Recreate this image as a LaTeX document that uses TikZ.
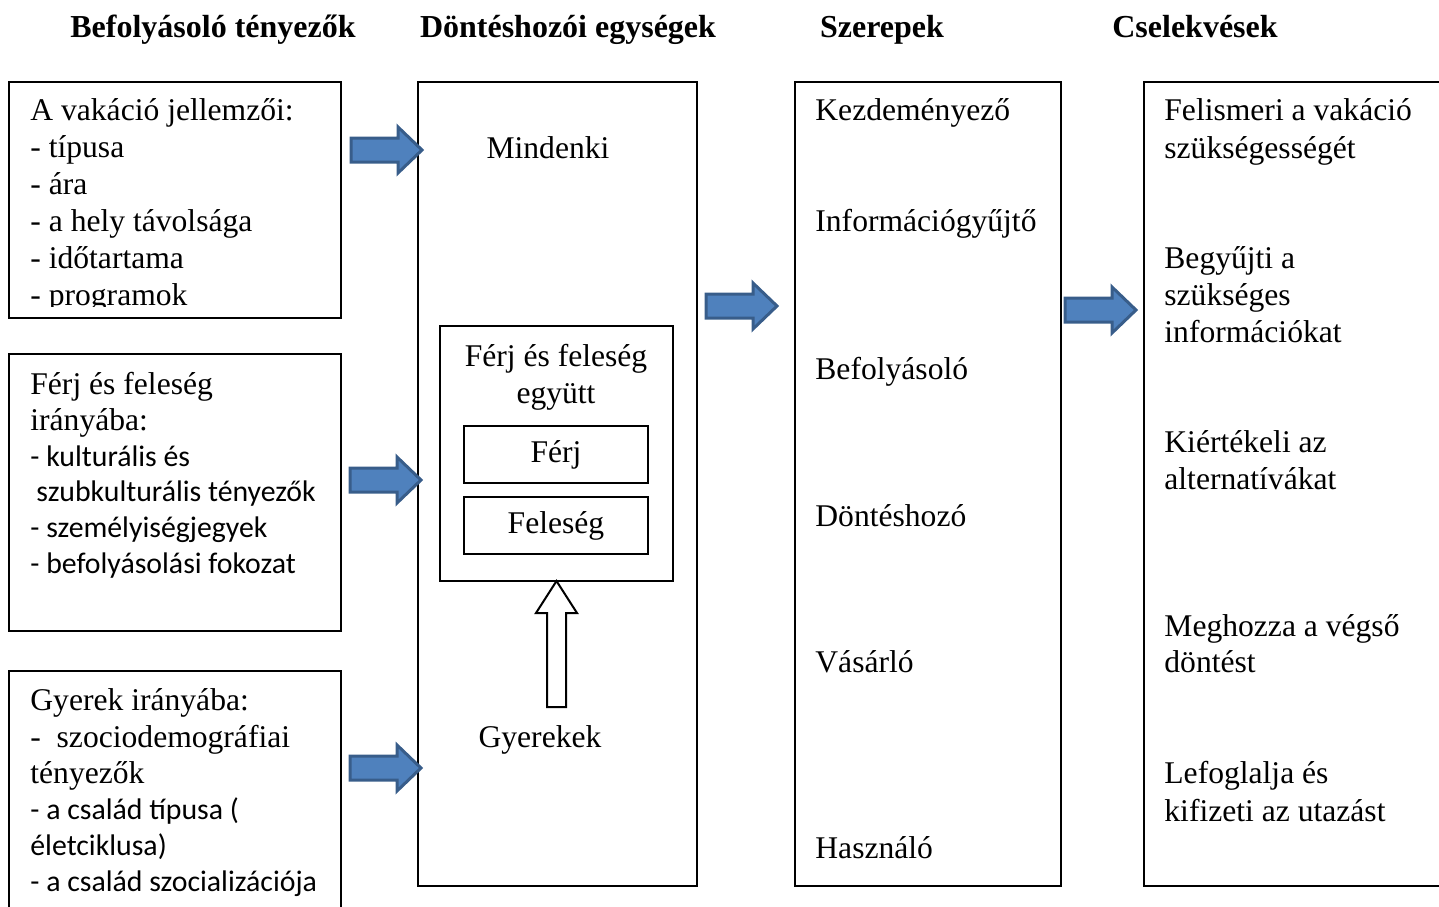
\documentclass[tikz,border=0pt]{standalone}
\usepackage{fontspec}
\setmainfont{Liberation Serif}
\newfontfamily\calibri{Carlito}
\usepackage{tikz}
\usetikzlibrary{positioning}

\definecolor{arrowfill}{HTML}{4F81BD}
\definecolor{arrowline}{HTML}{385D8A}

\tikzset{
	box/.style={draw, line width=1pt, anchor=north west, inner sep=0pt, outer sep=0pt},
	head/.style={font=\fontsize{16}{19}\selectfont\bfseries, anchor=base},
	txt/.style={font=\fontsize{15.8}{18.5}\selectfont, anchor=base west, inner sep=0pt},
	stxt/.style={font=\calibri\fontsize{14.9}{18}\selectfont, anchor=base west, inner sep=0pt},
	bluearrow/.pic={
			\filldraw[fill=arrowfill, draw=arrowline, line width=1.5pt, line join=miter]
			(-71,-12) -- (-24,-12) -- (-24,-23) -- (0,0) -- (-24,23) -- (-24,12) -- (-71,12) -- cycle;
		}
}

\begin{document}
\begin{tikzpicture}[x=0.5pt, y=-0.5pt]
		\clip (0,0) rectangle (1439,906);

		% Column titles
		\node[head] (h1) at (213,37) {Befolyásoló tényezők};
		\node[head] (h2) at (568,37) {Döntéshozói egységek};
		\node[head] (h3) at (882,37) {Szerepek};
		\node[head] (h4) at (1195,37) {Cselekvések};

		% Influencing factors
		\node[box, minimum width=166pt, minimum height=118pt] (fa) at (9,82) {};
		\node[box, minimum width=166pt, minimum height=138.5pt] (fb) at (9,354) {};
		\node[box, minimum width=166pt, minimum height=124.5pt] (fc) at (9,671) {};

		\begin{scope}
			\clip (9,82) rectangle (341,306);
			\foreach \t [count=\i] in {A vakáció jellemzői:, - típusa, - ára, - a hely távolsága, - időtartama, - programok}
			\node[txt] (fa\i) at (30,120+37*\i-37) {\t};
		\end{scope}

		\node[txt] (fb1) at (30,394) {Férj és feleség};
		\node[txt] (fb2) at (30,430) {irányába:};
		\node[stxt] (fb3) at (30,466) {- kulturális és};
		\node[stxt] (fb4) at (36,501) {szubkulturális tényezők};
		\node[stxt] (fb5) at (30,537) {- személyiségjegyek};
		\node[stxt] (fb6) at (30,573) {- befolyásolási fokozat};

		\node[txt] (fc1) at (30,710) {Gyerek irányába:};
		\node[txt] (fc2) at (30,747) {-\ \ szociodemográfiai};
		\node[txt] (fc3) at (30,783) {tényezők};
		\node[stxt] (fc4) at (30,819) {- a család típusa (};
		\node[stxt] (fc5) at (30,855) {életciklusa)};
		\node[stxt] (fc6) at (30,891) {- a család szocializációja};

		% Decision units
		\node[box, minimum width=139.5pt, minimum height=402pt] (mid) at (418,82) {};
		\node[box, minimum width=116.5pt, minimum height=127.5pt] (pair) at (440,326) {};
		\node[box, minimum width=92pt, minimum height=28.5pt, font=\fontsize{15.8}{18.5}\selectfont] (ferj) at (464,426) {Férj};
		\node[box, minimum width=92pt, minimum height=28.5pt, font=\fontsize{15.8}{18.5}\selectfont] (feleseg) at (464,497) {Feleség};
		\node[txt, anchor=base] (all) at (548,158) {Mindenki};
		\node[txt, anchor=base] (pair1) at (556,366) {Férj és feleség};
		\node[txt, anchor=base] (pair2) at (556,403) {együtt};
		\node[txt, anchor=base] (kids) at (540,747) {Gyerekek};

		% Children push up to the couple
		\draw[fill=white, line width=1pt, line join=miter]
		(pair.south) -- ++(20.5,32) -- ++(-11,0) -- ++(0,94) -- ++(-19,0) -- ++(0,-94) -- ++(-11,0) -- cycle;

		% Roles
		\node[box, minimum width=133pt, minimum height=402pt] (roles) at (795,82) {};
		\foreach \t/\y in {Kezdeményező/120, Információgyűjtő/231, Befolyásoló/379, Döntéshozó/526, Vásárló/672, Használó/858}
		\node[txt] (r\y) at (815,\y) {\t};

		% Actions
		\node[box, minimum width=160pt, minimum height=402pt] (acts) at (1144,82) {};
		\foreach \t/\y in {Felismeri a vakáció/120, szükségességét/158, Begyűjti a/268, szükséges/305, információkat/342, Kiértékeli az/452, alternatívákat/489, Meghozza a végső/636, döntést/672, Lefoglalja és/783, kifizeti az utazást/821}
		\node[txt] (a\y) at (1164,\y) {\t};

		% Block arrows
		\pic at (422,150) {bluearrow};
		\pic at (421,480) {bluearrow};
		\pic at (421,768) {bluearrow};
		\pic at (777,306) {bluearrow};
		\pic at (1136,310) {bluearrow};
	\end{tikzpicture}
\end{document}
